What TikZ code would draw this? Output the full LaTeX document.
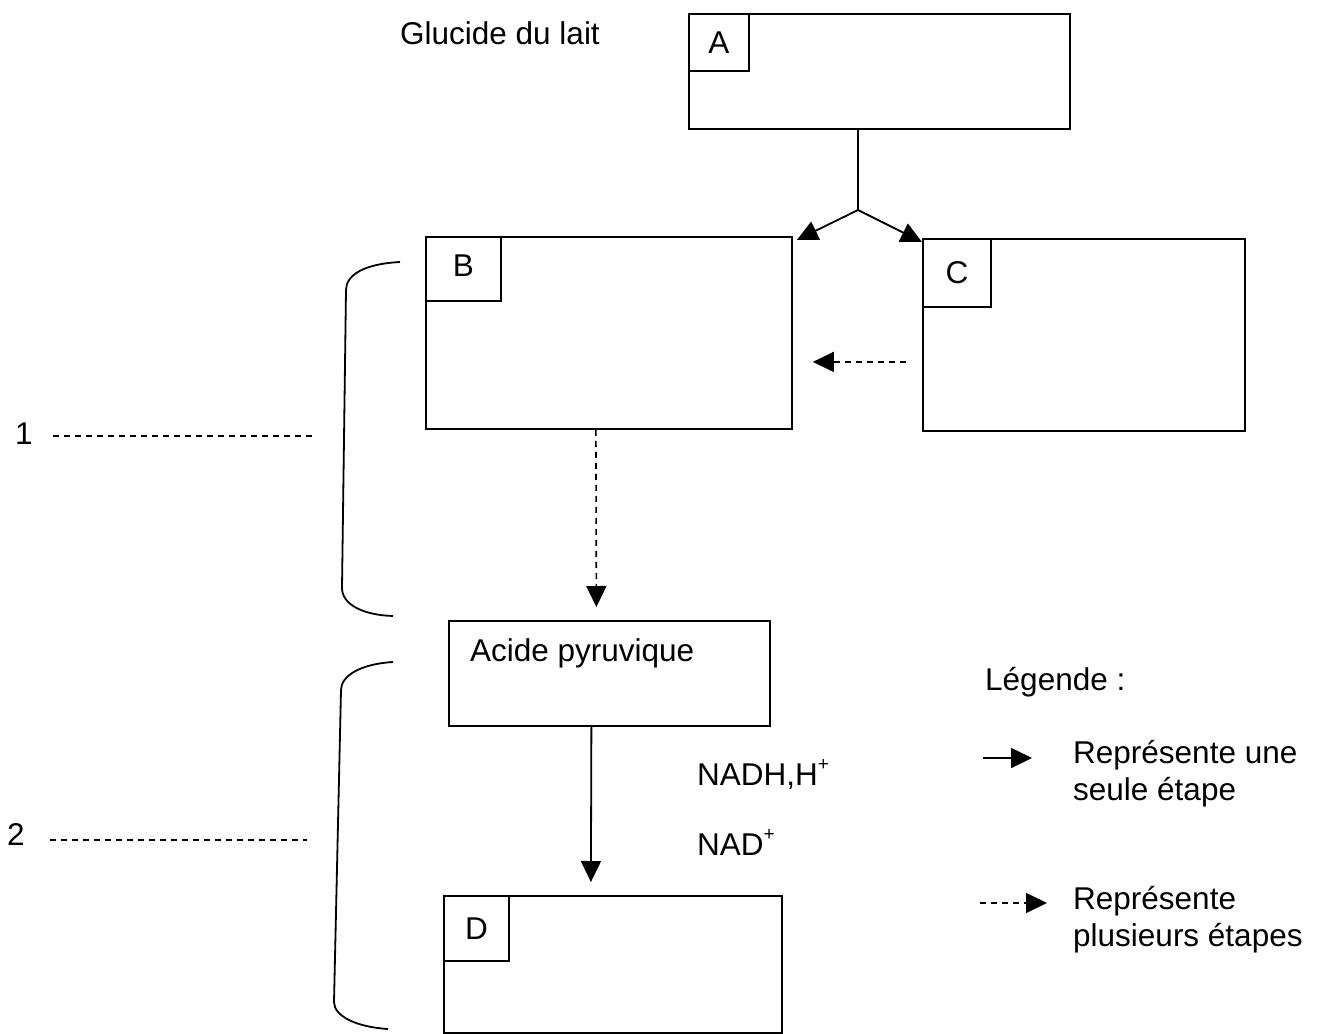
\documentclass[tikz,border=0pt]{standalone}
\usepackage{fontspec}
\setmainfont{Liberation Sans}
\usetikzlibrary{arrows.meta,calc}
\newcommand{\plussup}{\raisebox{0.85ex}{\fontsize{19}{19}\selectfont +}}
\begin{document}
\begin{tikzpicture}[x=1pt,y=-1pt,
  every node/.style={font=\fontsize{31.5}{37}\selectfont, inner sep=0pt},
  lw/.style={line width=1.8pt},
  box/.style={draw, lw, anchor=north west},
  tag/.style={draw, lw, anchor=north west},
  txt/.style={anchor=base west},
  tip/.style={-{Triangle[length=21pt,width=20pt]}},
  dsh/.style={dash pattern=on 6pt off 5pt, line width=1.6pt},
  guide/.style={dash pattern=on 6pt off 5pt, line width=1.4pt},
]
\useasboundingbox (0,0) rectangle (1318,1034);

% boxes
\node[box, minimum width=381pt, minimum height=115pt] (A) at (688,13) {};
\node[tag, minimum width=60pt, minimum height=57pt] (Atag) at (A.north west) {A};
\node[box, minimum width=366pt, minimum height=192pt] (B) at (425,236) {};
\node[tag, minimum width=75pt, minimum height=64pt, text depth=6pt] (Btag) at (B.north west) {B};
\node[box, minimum width=322pt, minimum height=192pt] (C) at (922,238) {};
\node[tag, minimum width=68pt, minimum height=68pt] (Ctag) at (C.north west) {C};
\node[box, minimum width=321pt, minimum height=105pt,
  label={[anchor=base west, inner sep=0pt, xshift=22pt, yshift=-41pt]north west:Acide pyruvique}] (P) at (448,620) {};
\node[box, minimum width=338pt, minimum height=137pt] (D) at (443,895) {};
\node[tag, minimum width=65pt, minimum height=65pt] (Dtag) at (D.north west) {D};

% texts
\node[txt] (glu) at (400,44) {Glucide du lait};
\node[txt] (nadh) at (697,785) {NADH,H\plussup};
\node[txt] (nad) at (697,855) {NAD\plussup};
\node[txt] (n1) at (15,444) {1};
\node[txt] (n2) at (7,845) {2};
\node[txt] (leg) at (985,690) {Légende :};
\node[txt, align=left, anchor=north west] (l1) at (1073,740) {Représente une\\seule étape};
\node[txt, align=left, anchor=north west] (l2) at (1073,886) {Représente\\plusieurs étapes};

% connectors
\coordinate (J) at (858,210);
\draw[lw] (A.south -| J) -- (J);
\draw[lw, tip] (J) -- ($(B.north east)+(4,4)$);
\draw[lw, tip] (J) -- ($(C.north west)+(0,4)$);
\draw[dsh, tip] ($(C.west)+(-16,27)$) -- ($(B.east)+(20,29)$);
\draw[dsh, tip] ($(B.south)+(-13,0)$) -- ($(P.north)+(-13,-13)$);
\draw[lw, tip] ($(P.south)+(-18,0)$) -- ($(D.north)+(-22,-13)$);

% guide lines
\draw[guide] ($(n1.base east)+(20,-8)$) -- (313,436);
\draw[guide] ($(n2.base east)+(25,-5)$) -- (307,840);

% braces
\draw[lw] (400,262) .. controls (362,264) and (346,276) .. (346,290) -- (342,588) .. controls (342,604) and (362,615) .. (393,616);
\draw[lw] (393,662) .. controls (360,664) and (341,676) .. (341,690) -- (334,1002) .. controls (334,1016) and (356,1027) .. (388,1029);

% legend arrows
\coordinate (la1) at (983,758);
\coordinate (lb1) at (1032,758);
\draw[lw, tip] (la1) -- (lb1);
\coordinate (la2) at (980,903);
\coordinate (lb2) at (1047,903);
\draw[dsh, tip] (la2) -- (lb2);
\end{tikzpicture}
\end{document}
